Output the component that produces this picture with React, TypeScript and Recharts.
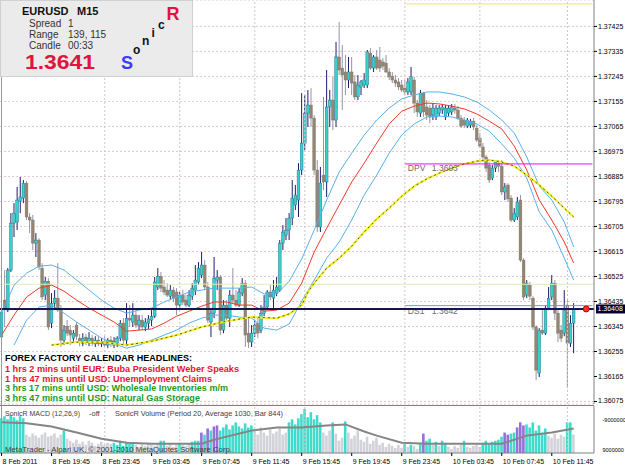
import React from "react";
import {
  Bar,
  CartesianGrid,
  Cell,
  ComposedChart,
  Line,
  ReferenceLine,
  XAxis,
  YAxis,
} from "recharts";

// EURUSD M15 candles, 8 Feb 15:45 .. 10 Feb 13:30
const opens = [
  1.36307, 1.3644, 1.36404, 1.36548, 1.36717, 1.36721, 1.36796, 1.36807, 1.36861, 1.36739,
  1.36728, 1.36645, 1.36656, 1.36555, 1.36458, 1.36508, 1.36357, 1.36429, 1.36447, 1.36404,
  1.36296, 1.36346, 1.36332, 1.36303, 1.3635, 1.36303, 1.36285, 1.36307, 1.36289, 1.36303,
  1.36282, 1.36296, 1.36282, 1.36292, 1.36278, 1.36296, 1.36278, 1.36285, 1.36303, 1.36357,
  1.36296, 1.36375, 1.36361, 1.36386, 1.3635, 1.36368, 1.36343, 1.36357, 1.36368, 1.36382,
  1.36487, 1.36526, 1.36487, 1.36476, 1.36454, 1.36476, 1.36469, 1.36422, 1.36458, 1.3644,
  1.36422, 1.36454, 1.36476, 1.36505, 1.3653, 1.36566, 1.36487, 1.36361, 1.36393, 1.36512,
  1.36523, 1.36332, 1.36422, 1.36375, 1.36458, 1.3644, 1.36422, 1.36465, 1.36501, 1.36321,
  1.36289, 1.36321, 1.36357, 1.36332, 1.36393, 1.36415, 1.36469, 1.36447, 1.36465, 1.36476,
  1.36645, 1.36674, 1.36692, 1.36735, 1.36782, 1.368, 1.36908, 1.37005, 1.37113, 1.37142,
  1.37095, 1.36908, 1.36703, 1.3689, 1.36865, 1.37135, 1.3716, 1.37088, 1.37315, 1.37275,
  1.37261, 1.37232, 1.37261, 1.37225, 1.37171, 1.37207, 1.37214, 1.37214, 1.37329, 1.37275,
  1.37315, 1.37304, 1.37297, 1.37293, 1.37261, 1.37246, 1.37232, 1.37225, 1.37214, 1.37203,
  1.37189, 1.37189, 1.37232, 1.37149, 1.37113, 1.37185, 1.37135, 1.37131, 1.37106, 1.37099,
  1.37113, 1.37124, 1.37099, 1.37113, 1.37117, 1.37131, 1.37124, 1.37095, 1.37088, 1.37066,
  1.3707, 1.37084, 1.37059, 1.37023, 1.36991, 1.36955, 1.36926, 1.36879, 1.36915, 1.36933,
  1.36922, 1.36829, 1.36854, 1.36807, 1.36728, 1.36739, 1.368, 1.36584, 1.36458, 1.36494,
  1.36447, 1.36343, 1.36177, 1.36332, 1.36321, 1.36411, 1.36451, 1.36501, 1.36393, 1.36332,
  1.36321, 1.36422, 1.36285, 1.36357,
];
const highs = [
  1.3644, 1.36548, 1.36555, 1.36753, 1.36789, 1.36847, 1.36883, 1.36872, 1.36868, 1.36753,
  1.36746, 1.36681, 1.36663, 1.36573, 1.36523, 1.36519, 1.36465, 1.36476, 1.36573, 1.36422,
  1.3635, 1.36368, 1.3635, 1.36332, 1.36361, 1.36318, 1.36321, 1.36318, 1.36325, 1.36314,
  1.3631, 1.3631, 1.36303, 1.3631, 1.36303, 1.3631, 1.36307, 1.3631, 1.36368, 1.36375,
  1.36429, 1.36422, 1.36429, 1.36404, 1.36386, 1.36386, 1.36375, 1.36386, 1.36404, 1.36523,
  1.36555, 1.36541, 1.36512, 1.36501, 1.36494, 1.36487, 1.36483, 1.36469, 1.36476, 1.36458,
  1.36476, 1.36501, 1.36566, 1.36577, 1.36613, 1.36584, 1.36505, 1.36404, 1.36595, 1.36548,
  1.3653, 1.3644, 1.3644, 1.36476, 1.36555, 1.36476, 1.36483, 1.36519, 1.36512, 1.36375,
  1.3635, 1.36368, 1.36375, 1.36422, 1.36458, 1.36476, 1.36494, 1.36512, 1.36523, 1.36656,
  1.3671, 1.36735, 1.36753, 1.36872, 1.36854, 1.36933, 1.37185, 1.37178, 1.37196, 1.37203,
  1.37106, 1.36944, 1.36919, 1.37171, 1.37268, 1.37196, 1.37243, 1.37369, 1.37441, 1.37358,
  1.37322, 1.37315, 1.37315, 1.3725, 1.3725, 1.37232, 1.37257, 1.3734, 1.37347, 1.37322,
  1.3734, 1.37351, 1.37311, 1.37322, 1.37275, 1.37261, 1.3725, 1.37239, 1.37232, 1.37232,
  1.37239, 1.37279, 1.37243, 1.3716, 1.37196, 1.37189, 1.3716, 1.37142, 1.37149, 1.37142,
  1.37142, 1.37146, 1.37142, 1.37142, 1.37146, 1.37146, 1.37138, 1.37106, 1.37099, 1.37095,
  1.37092, 1.37095, 1.3707, 1.37041, 1.37005, 1.36962, 1.36937, 1.36926, 1.36944, 1.36944,
  1.36944, 1.36861, 1.36861, 1.36818, 1.36771, 1.36811, 1.36818, 1.36591, 1.36512, 1.36505,
  1.36454, 1.3635, 1.36339, 1.36404, 1.36422, 1.36487, 1.3653, 1.36512, 1.36404, 1.3635,
  1.36476, 1.3644, 1.36386, 1.36429,
];
const lows = [
  1.36278, 1.36343, 1.36397, 1.36541, 1.36667, 1.36692, 1.36753, 1.36789, 1.36728, 1.36681,
  1.3662, 1.36595, 1.36548, 1.3644, 1.3644, 1.36332, 1.36339, 1.36404, 1.36397, 1.36271,
  1.36278, 1.3631, 1.36278, 1.36289, 1.36296, 1.36274, 1.36274, 1.36278, 1.36274, 1.36274,
  1.36271, 1.36274, 1.36271, 1.36271, 1.36267, 1.36271, 1.36267, 1.36271, 1.36292, 1.36278,
  1.36274, 1.36343, 1.36343, 1.36339, 1.36332, 1.36332, 1.36328, 1.36336, 1.36346, 1.36375,
  1.36476, 1.36469, 1.36458, 1.36451, 1.3644, 1.36433, 1.36386, 1.36411, 1.36422, 1.36415,
  1.36415, 1.3644, 1.36458, 1.36494, 1.36519, 1.36476, 1.36357, 1.36307, 1.36375, 1.36476,
  1.36314, 1.36321, 1.36361, 1.36343, 1.36429, 1.36415, 1.36415, 1.36454, 1.36271, 1.36267,
  1.36271, 1.36307, 1.36303, 1.36321, 1.36382, 1.36404, 1.3644, 1.36404, 1.36454, 1.36469,
  1.3662, 1.36656, 1.36656, 1.3671, 1.36764, 1.36739, 1.3689, 1.3698, 1.37063, 1.37063,
  1.3689, 1.36685, 1.36685, 1.36836, 1.36811, 1.37063, 1.37052, 1.37063, 1.3725, 1.37124,
  1.37178, 1.37203, 1.37178, 1.3716, 1.3716, 1.37178, 1.37203, 1.37203, 1.37268, 1.37261,
  1.37268, 1.37261, 1.37268, 1.37257, 1.37232, 1.37221, 1.37207, 1.37196, 1.37189, 1.37178,
  1.37178, 1.37178, 1.37113, 1.37099, 1.37099, 1.37099, 1.37088, 1.37077, 1.37088, 1.37088,
  1.37102, 1.3711, 1.37088, 1.37102, 1.37106, 1.3711, 1.37088, 1.37059, 1.37059, 1.37059,
  1.37059, 1.37052, 1.37009, 1.36987, 1.36944, 1.36901, 1.36861, 1.36872, 1.36901, 1.36901,
  1.36818, 1.368, 1.36793, 1.36721, 1.36721, 1.36728, 1.36577, 1.3644, 1.36447, 1.3644,
  1.36332, 1.36152, 1.36163, 1.36314, 1.36314, 1.36404, 1.3644, 1.36368, 1.36289, 1.36289,
  1.3631, 1.36123, 1.36271, 1.36249,
];
const closes = [
  1.36397, 1.36411, 1.36548, 1.36717, 1.36753, 1.368, 1.36811, 1.36861, 1.36739, 1.36728,
  1.36645, 1.36656, 1.36559, 1.36451, 1.36508, 1.36343, 1.36429, 1.36447, 1.36404, 1.36296,
  1.36332, 1.36321, 1.36314, 1.36321, 1.3631, 1.36289, 1.36303, 1.36289, 1.36303, 1.36285,
  1.36296, 1.36282, 1.36292, 1.36278, 1.36296, 1.36282, 1.36292, 1.36303, 1.36357, 1.36296,
  1.36375, 1.36368, 1.36386, 1.3635, 1.36368, 1.36343, 1.36361, 1.36372, 1.36382, 1.36505,
  1.36526, 1.36483, 1.36469, 1.36458, 1.36476, 1.36447, 1.36422, 1.36458, 1.36433, 1.36422,
  1.36458, 1.36483, 1.36512, 1.36555, 1.36566, 1.36487, 1.36368, 1.36393, 1.36519, 1.36523,
  1.36332, 1.36422, 1.36375, 1.36458, 1.3644, 1.36422, 1.36469, 1.36501, 1.36314, 1.36289,
  1.36321, 1.3635, 1.36321, 1.36393, 1.36415, 1.36469, 1.36451, 1.36476, 1.36487, 1.36645,
  1.36685, 1.36692, 1.36735, 1.36807, 1.36818, 1.36908, 1.37005, 1.37113, 1.37142, 1.37095,
  1.36908, 1.36703, 1.36861, 1.36865, 1.37135, 1.3716, 1.37088, 1.37315, 1.37268, 1.3725,
  1.37232, 1.37261, 1.37221, 1.37171, 1.37214, 1.37225, 1.37232, 1.37333, 1.37275, 1.37315,
  1.37275, 1.37275, 1.37282, 1.37261, 1.37243, 1.37232, 1.37221, 1.37207, 1.37196, 1.37189,
  1.37225, 1.37243, 1.37149, 1.37117, 1.37185, 1.37117, 1.37106, 1.37099, 1.37131, 1.37131,
  1.37131, 1.37135, 1.37131, 1.37131, 1.37135, 1.37124, 1.37095, 1.37066, 1.3707, 1.37088,
  1.37084, 1.37063, 1.37016, 1.36994, 1.36955, 1.36915, 1.36872, 1.36915, 1.36937, 1.36922,
  1.36829, 1.36847, 1.36804, 1.36728, 1.36753, 1.36793, 1.36584, 1.36451, 1.36501, 1.36454,
  1.36343, 1.36188, 1.36332, 1.36321, 1.36411, 1.36447, 1.36501, 1.36393, 1.36321, 1.36303,
  1.36404, 1.36285, 1.36357, 1.36408,
];

// SonicR dragon (upper / middle / lower) read every 4 bars
const bandIdx = [
  0, 4, 8, 12, 16, 20, 24, 28, 32, 36, 40, 44, 48, 52, 56, 60, 64, 68, 72, 76, 80, 84, 88, 92,
  96, 100, 104, 108, 112, 116, 120, 124, 128, 132, 136, 140, 144, 148, 152, 156, 160, 164, 168,
  172, 176, 180, 183,
];
const bandUp = [
  1.36393, 1.36494, 1.36537, 1.36562, 1.36566, 1.36548, 1.36512, 1.36476, 1.3644, 1.36411,
  1.36393, 1.36404, 1.36411, 1.36433, 1.36451, 1.36469, 1.36476, 1.36483, 1.36483, 1.36483,
  1.36487, 1.36462, 1.36462, 1.36508, 1.36588, 1.36692, 1.368, 1.36901, 1.36969, 1.37034,
  1.37088, 1.37131, 1.37164, 1.37178, 1.37189, 1.37189, 1.37182, 1.37171, 1.37153, 1.37124,
  1.37088, 1.37041, 1.36955, 1.3685, 1.368, 1.36721, 1.36631,
];
const bandMid = [
  1.36314, 1.36386, 1.36451, 1.36483, 1.36494, 1.36472, 1.3644, 1.36411, 1.36386, 1.36361,
  1.36328, 1.36332, 1.36336, 1.36357, 1.36382, 1.364, 1.36418, 1.36433, 1.36433, 1.36422,
  1.36422, 1.364, 1.36404, 1.36429, 1.36501, 1.36613, 1.36699, 1.36782, 1.36865, 1.36933,
  1.37005, 1.37074, 1.3712, 1.37138, 1.37149, 1.37146, 1.37138, 1.37128, 1.3711, 1.37084,
  1.37056, 1.36994, 1.36908, 1.368, 1.36728, 1.36649, 1.36573,
];
const bandDn = [
  null, 1.36278, 1.36368, 1.36415, 1.36422, 1.36393, 1.36361, 1.36332, 1.36303, 1.36282,
  1.36267, 1.36278, 1.36296, 1.36314, 1.36332, 1.36357, 1.36375, 1.36386, 1.36386, 1.36379,
  1.36375, 1.36339, 1.36332, 1.36354, 1.36436, 1.36512, 1.36591, 1.36649, 1.36728, 1.36818,
  1.3689, 1.36969, 1.37034, 1.37074, 1.37099, 1.37102, 1.37099, 1.37088, 1.37074, 1.37048,
  1.37002, 1.36951, 1.36879, 1.36757, 1.36692, 1.36591, 1.36512,
];

// slow yellow average
const emaIdx = [
  16, 24, 32, 40, 48, 56, 64, 72, 80, 88, 92, 96, 98, 100, 104, 108, 112, 116, 120, 124, 128,
  132, 136, 140, 144, 148, 152, 156, 160, 164, 168, 172, 176, 180, 183,
];
const emaVals = [
  1.36278, 1.36289, 1.36289, 1.36278, 1.36292, 1.36314, 1.36343, 1.36364, 1.36379, 1.36375,
  1.3639, 1.36422, 1.36469, 1.36501, 1.36555, 1.36591, 1.36634, 1.36685, 1.36732, 1.36771,
  1.36814, 1.3685, 1.36876, 1.36897, 1.36915, 1.3693, 1.3694, 1.36944, 1.36937, 1.36922,
  1.3689, 1.36854, 1.36814, 1.36771, 1.36739,
];

// SonicR volume, t = above average, g = below, p = climax
const volumes = [
  1700, 1800, 1650, 1850, 1750, 1600, 1800, 1700,
  900, 800, 950, 850, 750, 900, 1000, 800, 850, 950, 750, 900,
  1100,
  700, 600, 500, 650, 450, 550, 400, 600, 500, 350, 450, 550, 400, 500, 450,
  500, 400, 600, 350, 550, 450, 500,
  400, 300, 450, 350, 500, 400, 350, 450,
  600, 600,
  350, 450, 300, 400, 500, 400, 350, 450, 550, 600,
  600,
  1000, 900, 1200, 1100, 1300, 1350, 1100,
  1250, 1400, 1150, 1350, 1500, 1300, 1200, 1450, 1250, 1350,
  1100, 900, 1250, 1000, 850, 1150, 950, 1050, 1200, 900, 1000,
  1500, 1650, 1400, 1700,
  1900, 2150, 1750, 2000, 1650, 1850, 1500,
  1000, 850, 1100,
  1500,
  950, 600, 750,
  1550,
  1000, 700, 850, 1100, 650, 550, 800, 450, 600, 750, 400, 500, 300, 450, 350, 250, 400,
  250, 450, 300, 400, 350, 200, 500,
  950,
  600, 700, 400, 550, 350, 600, 500,
  300, 200, 350, 250, 400, 600, 300, 250, 350, 400, 300,
  500, 600, 450, 550, 600, 650,
  800,
  1000, 900,
  950, 1000,
  1250, 1500, 1350,
  1400, 1250, 1500, 1100, 1350, 1000, 1200,
  850, 750, 950, 700, 900, 800,
  1500, 1500, 900,
];
const volKinds = (
  "tttttttt" + "gggggggggggg" + "t" + "ggggggggggggggg" + "ttttttt" + "gggggggg" + "tt" +
  "ggggtgggtt" + "t" + "ptptppt" + "tttttttttt" + "ggggggggggg" + "tttt" + "ttttttt" + "ggg" +
  "t" + "ggg" + "t" + "ggggggggggggggggg" + "gtgtggt" + "p" + "ttgtgtt" + "gggggtggggg" +
  "tttttt" + "t" + "pp" + "tt" + "ppp" + "ttttttt" + "gggggg" + "ttg"
).split("");
const volMaIdx = [0, 8, 16, 24, 32, 40, 48, 56, 64, 68, 72, 80, 88, 96, 104, 110, 116, 120, 128, 136, 144, 152, 160, 168, 176, 183];
const volMaVals = [1500, 1450, 1300, 1000, 700, 500, 450, 450, 450, 650, 800, 1100, 1250, 1250, 1350, 1400, 1050, 850, 500, 450, 450, 450, 450, 850, 1000, 1200];

const priceTicks = [
  1.37425, 1.37335, 1.37245, 1.37155, 1.37065, 1.36975, 1.36885, 1.36795, 1.36705, 1.36615,
  1.36525, 1.36435, 1.36345, 1.36255, 1.36165, 1.36075,
];
const timeLabels = [
  "8 Feb 2011", "8 Feb 19:45", "8 Feb 23:45", "9 Feb 03:45", "9 Feb 07:45", "9 Feb 11:45",
  "9 Feb 15:45", "9 Feb 19:45", "9 Feb 23:45", "10 Feb 03:45", "10 Feb 07:45", "10 Feb 11:45",
];
const timeLabelBars = [0, 16, 32, 48, 64, 80, 96, 112, 128, 144, 160, 176];
const gridBars = [33, 57, 81, 97, 129, 153, 181];

const BID = 1.36408;
const DPV = 1.3693;
const DS1 = 1.3642;
const SLOTS = 190; // bars plus the empty shift on the right
const MARKER_BAR = 187;

const volColor: Record<string, string> = { t: "#3fdccc", g: "#d2d2da", p: "#9370db" };

const rows: any[] = Array.from({ length: SLOTS }, (_, i) => {
  const has = i < opens.length;
  return {
    i,
    o: has ? opens[i] : null,
    h: has ? highs[i] : null,
    l: has ? lows[i] : null,
    c: has ? closes[i] : null,
    range: has ? [lows[i], highs[i]] : null,
    vol: has ? volumes[i] : null,
    kind: has ? volKinds[i] : null,
    up: null,
    mid: null,
    dn: null,
    ema: null,
    volMa: null,
    marker: i === MARKER_BAR ? BID : null,
  };
});
bandIdx.forEach((b, k) => {
  rows[b].up = bandUp[k];
  rows[b].mid = bandMid[k];
  rows[b].dn = bandDn[k];
});
emaIdx.forEach((b, k) => {
  rows[b].ema = emaVals[k];
});
volMaIdx.forEach((b, k) => {
  rows[b].volMa = volMaVals[k];
});

function Candle(props: any) {
  const { x, y, width, height, payload } = props;
  if (!payload || payload.o == null) return <g />;
  const { o, h, l, c } = payload;
  const top = Math.min(y, y + height);
  const span = Math.abs(height);
  const toY = (p: number) => top + ((h - p) / (h - l)) * span;
  const cx = x + width / 2;
  const bull = c >= o;
  const bTop = toY(Math.max(o, c));
  const bBot = toY(Math.min(o, c));
  return (
    <g>
      <line x1={cx} x2={cx} y1={top} y2={top + span} stroke={bull ? "#1e1e6e" : "#9494aa"} strokeWidth={1} />
      <rect
        x={cx - 1.4}
        y={bTop}
        width={2.8}
        height={Math.max(bBot - bTop, 1)}
        fill={bull ? "#36d2c8" : "#938674"}
        stroke={bull ? "#2a5a8a" : "#7d7262"}
        strokeWidth={0.4}
      />
    </g>
  );
}

function TimeTick(props: any) {
  const { x, y, payload } = props;
  const k = timeLabelBars.indexOf(payload.value);
  return (
    <g>
      <line x1={x} x2={x} y1={y} y2={y + 3} stroke="#000" />
      <text x={x + 1} y={y + 11} fontSize={7} fill="#000">
        {timeLabels[k]}
      </text>
    </g>
  );
}

function VolTick(props: any) {
  const { x, y, payload } = props;
  const top = payload.value > 0;
  return (
    <text x={x + 0.5} y={top ? y + 8 : y - 1} fontSize={5.5} fill="#000">
      {top ? "-9000000" : "9000000"}
    </text>
  );
}

function PriceBox(props: any) {
  const vb = props.viewBox || {};
  const right = vb.x + vb.width;
  return (
    <g>
      <rect x={right + 2} y={vb.y - 4.5} width={31} height={9} fill="#000033" />
      <text x={right + 3.5} y={vb.y + 2.5} fontSize={7} fill="#fff">
        1.36408
      </text>
    </g>
  );
}

const levelLabel = (name: string, value: string, dy: number) => (props: any) => {
  const vb = props.viewBox || {};
  return (
    <g>
      <text x={vb.x + 3} y={vb.y + dy} fontSize={8.5} fill="#6a6a6a">
        {name}
      </text>
      <text x={vb.x + 27} y={vb.y + dy} fontSize={8.5} fill="#6a6a6a">
        {value}
      </text>
    </g>
  );
};

const headlines = [
  { text: "1 hrs 2 mins until EUR: Buba President Weber Speaks", color: "#e8142c", y: 372, w: 234 },
  { text: "1 hrs 47 mins until USD: Unemployment Claims", color: "#e8142c", y: 382, w: 207 },
  { text: "3 hrs 17 mins until USD: Wholesale Inventories m/m", color: "#1c9a1c", y: 391, w: 223 },
  { text: "3 hrs 47 mins until USD: Natural Gas Storage", color: "#1c9a1c", y: 400.5, w: 195 },
];

export default function App() {
  return (
    <div
      style={{
        position: "relative",
        width: 625,
        height: 469,
        background: "#fff",
        fontFamily: "'Liberation Sans', Arial, sans-serif",
        overflow: "hidden",
      }}
    >
      <style>{"body{margin:0}"}</style>
      <div style={{ position: "absolute", left: 0, top: 0 }}>
        <ComposedChart width={625} height={405} data={rows} margin={{ top: 0, right: 0, bottom: 1, left: 0 }}>
          <CartesianGrid vertical={false} stroke="#e8c6c6" strokeDasharray="2 2" />
          <XAxis dataKey="i" type="category" hide />
          <YAxis
            orientation="right"
            width={31}
            domain={[1.36066, 1.3752]}
            ticks={priceTicks}
            allowDataOverflow
            tickFormatter={(v: number) => v.toFixed(5)}
            tick={{ fontSize: 7, fill: "#000" }}
            tickSize={3}
            tickMargin={1}
            tickLine={{ stroke: "#000" }}
            axisLine={{ stroke: "#808080" }}
          />
          {gridBars.map((b) => (
            <ReferenceLine key={b} x={b} stroke="#c8c8c8" strokeDasharray="2 2" />
          ))}
          <ReferenceLine y={1.36497} stroke="#dcefb4" />
          <ReferenceLine
            segment={[
              { x: 129, y: 1.37506 },
              { x: SLOTS - 1, y: 1.37506 },
            ]}
            stroke="#e4e480"
          />
          <Line dataKey="up" connectNulls dot={false} activeDot={false} stroke="#5ab0ee" strokeWidth={1} isAnimationActive={false} />
          <Line dataKey="dn" connectNulls dot={false} activeDot={false} stroke="#5ab0ee" strokeWidth={1} isAnimationActive={false} />
          <Line dataKey="mid" connectNulls dot={false} activeDot={false} stroke="#f03a2a" strokeWidth={1} isAnimationActive={false} />
          <Line dataKey="ema" connectNulls dot={false} activeDot={false} stroke="#f4f020" strokeWidth={2} isAnimationActive={false} />
          <Line
            dataKey="ema"
            connectNulls
            dot={false}
            activeDot={false}
            stroke="#5a5a10"
            strokeWidth={1}
            strokeDasharray="2 3"
            isAnimationActive={false}
          />
          <Bar dataKey="range" barSize={3} shape={<Candle />} isAnimationActive={false} />
          <ReferenceLine
            segment={[
              { x: 129, y: DPV },
              { x: SLOTS - 1, y: DPV },
            ]}
            stroke="#ff00ff"
            label={levelLabel("DPV", "1.3693", 7.5)}
          />
          <ReferenceLine
            segment={[
              { x: 129, y: DS1 },
              { x: SLOTS - 1, y: DS1 },
            ]}
            stroke="#8a8af0"
            label={levelLabel("DS1", "1.3642", 8.5)}
          />
          <ReferenceLine y={BID} stroke="#16164e" strokeWidth={2} label={<PriceBox />} />
          <Line
            dataKey="marker"
            stroke="none"
            dot={{ r: 3, fill: "#ff2a2a", stroke: "#c80000", strokeWidth: 1 }}
            activeDot={false}
            isAnimationActive={false}
          />
        </ComposedChart>
      </div>

      <div style={{ position: "absolute", left: 0, top: 405 }}>
        <ComposedChart width={625} height={64} data={rows} margin={{ top: 1, right: 0, bottom: 0, left: 0 }}>
          <XAxis
            dataKey="i"
            type="category"
            ticks={timeLabelBars}
            interval={0}
            tick={<TimeTick />}
            tickSize={0}
            tickMargin={0}
            tickLine={false}
            axisLine={{ stroke: "#808080" }}
            height={16}
          />
          <YAxis
            orientation="right"
            width={31}
            domain={[0, 2300]}
            ticks={[0, 2300]}
            allowDataOverflow
            tick={<VolTick />}
            tickLine={false}
            axisLine={{ stroke: "#808080" }}
          />
          {gridBars.map((b) => (
            <ReferenceLine key={b} x={b} stroke="#c8c8c8" strokeDasharray="2 2" />
          ))}
          <Bar dataKey="vol" barSize={2.6} isAnimationActive={false}>
            {rows.map((r) => (
              <Cell key={r.i} fill={r.kind ? volColor[r.kind] : "none"} />
            ))}
          </Bar>
          <Line dataKey="volMa" connectNulls dot={false} activeDot={false} stroke="#858585" strokeWidth={2} isAnimationActive={false} />
        </ComposedChart>
      </div>

      <svg
        width={625}
        height={469}
        style={{ position: "absolute", left: 0, top: 0, pointerEvents: "none" }}
      >
        <line x1={1.5} x2={1.5} y1={0} y2={453} stroke="#9a9a9a" />
        <line x1={0} x2={594} y1={405.5} y2={405.5} stroke="#808080" />

        <rect x={0.5} y={0.5} width={192} height={76} fill="#ebebeb" stroke="#d0d0d0" />
        <text x={22} y={14.5} fontSize={11} fontWeight="bold" fill="#111">EURUSD</text>
        <text x={77} y={14.5} fontSize={11} fontWeight="bold" fill="#111">M15</text>
        <text x={29} y={26.5} fontSize={10} fill="#333">Spread</text>
        <text x={68} y={26.5} fontSize={10} fill="#333">1</text>
        <text x={29} y={37.5} fontSize={10} fill="#333">Range</text>
        <text x={68} y={37.5} fontSize={10} fill="#333">139, 115</text>
        <text x={29} y={48.5} fontSize={10} fill="#333">Candle</text>
        <text x={68} y={48.5} fontSize={10} fill="#333">00:33</text>
        <text x={25} y={68.5} fontSize={21} fontWeight="bold" fill="#e0143c" textLength={70} lengthAdjust="spacingAndGlyphs">
          1.3641
        </text>
        <text x={121} y={68.5} fontSize={18} fontWeight="bold" fill="#3a3aff">S</text>
        <text x={133} y={54} fontSize={12} fontWeight="bold" fill="#111">o</text>
        <text x={142} y={45} fontSize={12} fontWeight="bold" fill="#111">n</text>
        <text x={151.5} y={37} fontSize={12} fontWeight="bold" fill="#111">i</text>
        <text x={158} y={28.5} fontSize={12} fontWeight="bold" fill="#111">c</text>
        <text x={166.5} y={20} fontSize={18} fontWeight="bold" fill="#e0143c">R</text>

        <text x={5} y={360.7} fontSize={8.5} fontWeight="bold" fill="#000" textLength={187} lengthAdjust="spacingAndGlyphs">
          FOREX FACTORY CALENDAR  HEADLINES:
        </text>
        {headlines.map((hl) => (
          <text
            key={hl.text}
            x={5}
            y={hl.y}
            fontSize={8.5}
            fontWeight="bold"
            fill={hl.color}
            textLength={hl.w}
            lengthAdjust="spacingAndGlyphs"
          >
            {hl.text}
          </text>
        ))}

        <text x={5} y={416} fontSize={7.5} fill="#404040" textLength={75} lengthAdjust="spacingAndGlyphs">
          SonicR MACD  (12,26,9)
        </text>
        <text x={89} y={416} fontSize={7.5} fill="#404040">-off</text>
        <text x={115} y={416} fontSize={7.5} fill="#404040" textLength={168} lengthAdjust="spacingAndGlyphs">
          SonicR Volume  (Period 20, Average 1030, Bar 844)
        </text>
        <text x={5} y={451.5} fontSize={7.5} fill="#404040" textLength={227} lengthAdjust="spacingAndGlyphs">
          MetaTrader - Alpari UK, © 2001-2010 MetaQuotes Software Corp.
        </text>
      </svg>
    </div>
  );
}
